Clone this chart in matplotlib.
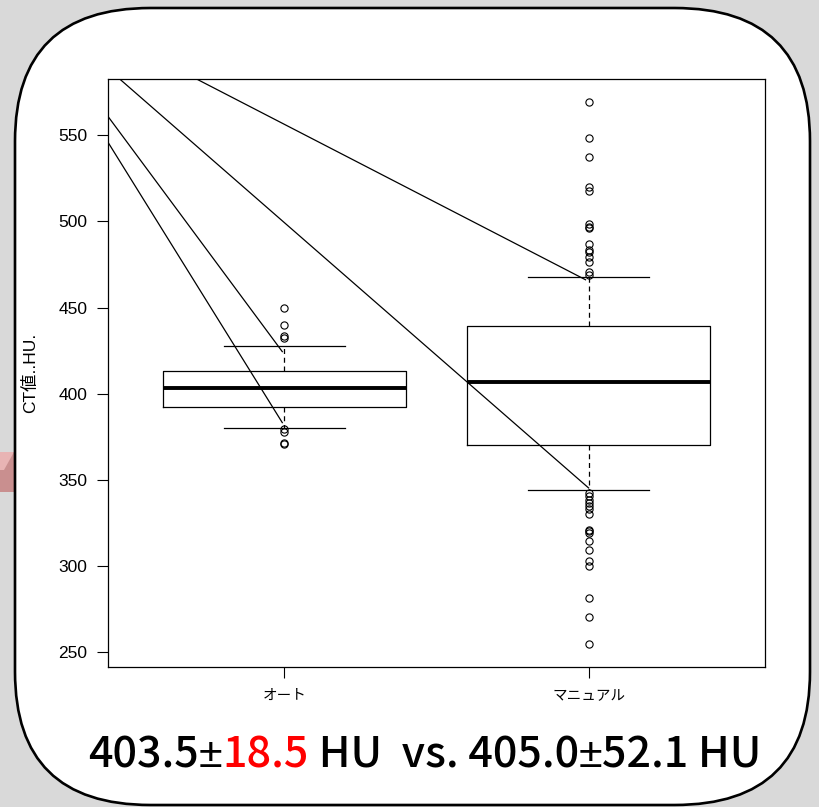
import matplotlib
matplotlib.use("Agg")
import matplotlib.pyplot as plt
from matplotlib.patches import FancyBboxPatch, Polygon

# ---------------- data ----------------
categories = ['オート', 'マニュアル']
q1 = [392.3, 370.4]
median = [403.3, 406.8]
q3 = [412.9, 439.0]
whisker_low = [380.0, 344.3]
whisker_high = [427.4, 467.8]
auto_outliers = [450.0, 439.6, 433.2, 432.5, 379.5, 377.5, 371.5, 371.0]
manual_outliers = [569.0, 548.5, 537.5, 520.2, 517.7, 498.6, 497.0, 495.9,
                   487.0, 483.5, 482.0, 479.6, 476.7, 470.4, 469.0,
                   342.4, 340.4, 338.5, 336.6, 334.6, 332.9, 330.2,
                   321.1, 320.1, 319.2, 314.3, 309.5, 302.7, 300.2,
                   281.5, 270.3, 254.8]
yticks = [250, 300, 350, 400, 450, 500, 550]
ylabel = 'CT値..HU.'
# callout lines: common origin (outside plot) -> target points
callout_origin = (0.092, 639.0)
callout_target_x = [0.993, 0.993, 2.0, 1.99]
callout_target_y = [424.4, 383.2, 345.3, 466.1]
summary_parts = ['403.5', '±', '18.5', ' HU  vs. 405.0', '±', '52.1 HU']
summary_colors = ['black', 'black', 'red', 'black', 'black', 'black']

# ---------------- figure ----------------
W, H = 820, 807
fig = plt.figure(figsize=(W / 100, H / 100), dpi=100)
fig.patch.set_facecolor('#d9d9d9')

# pink fragment at left edge
pink = Polygon([(0, 1 - 452 / H), (14 / W, 1 - 452 / H), (14 / W, 1 - 492 / H),
                (0, 1 - 492 / H)], closed=True, transform=fig.transFigure,
               facecolor='#c98f8f', edgecolor='none', zorder=0)
fig.patches.append(pink)
pink2 = Polygon([(0, 1 - 452 / H), (14 / W, 1 - 452 / H), (4 / W, 1 - 470 / H),
                 (0, 1 - 470 / H)], closed=True, transform=fig.transFigure,
                facecolor='#e8b4b4', edgecolor='none', zorder=0)
fig.patches.append(pink2)

# rounded white panel
x0, x1 = 15 / W, 810 / W
y0, y1 = 1 - 805 / H, 1 - 8 / H
panel = FancyBboxPatch((x0, y0), x1 - x0, y1 - y0,
                       boxstyle='round,pad=0,rounding_size=0.165',
                       transform=fig.transFigure, facecolor='white',
                       edgecolor='black', linewidth=1.9, zorder=1)
fig.patches.append(panel)

ax = fig.add_axes([108 / W, 1 - 667 / H, (765 - 108) / W, (667 - 79) / H])
ax.set_facecolor('white')
ax.set_zorder(2)

stats = []
fliers = [auto_outliers, manual_outliers]
for i in range(len(categories)):
    stats.append(dict(med=median[i], q1=q1[i], q3=q3[i],
                      whislo=whisker_low[i], whishi=whisker_high[i],
                      fliers=fliers[i], label=categories[i]))

ax.bxp(stats, positions=[1, 2], widths=0.8, capwidths=0.4,
       boxprops=dict(color='black', linewidth=0.9),
       medianprops=dict(color='black', linewidth=2.8, solid_capstyle='butt'),
       whiskerprops=dict(color='black', linewidth=0.9, linestyle=(0, (4, 3))),
       capprops=dict(color='black', linewidth=0.9),
       flierprops=dict(marker='o', markerfacecolor='none', markeredgecolor='black',
                       markersize=5.2, markeredgewidth=0.8, linestyle='none'))

for tx, ty in zip(callout_target_x, callout_target_y):
    ax.plot([callout_origin[0], tx], [callout_origin[1], ty], color='black',
            linewidth=0.9, clip_on=True, zorder=5)

ax.set_xlim(0.42, 2.58)
ax.set_ylim(241.4, 582.6)
ax.set_yticks(yticks)
ax.set_yticklabels([str(v) for v in yticks], fontsize=12.5, family=['Liberation Sans'])
ax.set_xticks([1, 2])
ax.set_xticklabels(categories, fontsize=10.5, family=['Noto Sans CJK JP'])
ax.tick_params(axis='y', length=7.7, width=0.8, pad=7)
ax.tick_params(axis='x', length=7.7, width=0.8, pad=8)
for s in ax.spines.values():
    s.set_linewidth(0.9)
    s.set_color('black')

fig.text(30 / W, 1 - 373 / H, ylabel, rotation=90, va='center', ha='center',
         fontsize=12.5, family=['Liberation Sans', 'Noto Sans CJK JP'], zorder=3)

# summary text with colored part
last = None
for txt, col in zip(summary_parts, summary_colors):
    if txt == '±':
        kw = dict(fontsize=31, color=col, family=['Liberation Sans'],
                  fontweight='normal', zorder=4)
    else:
        kw = dict(fontsize=31, color=col, family=['Noto Sans CJK JP'],
                  fontweight='medium', zorder=4)
    if last is None:
        last = fig.text(88 / W, 1 - 767 / H, txt, ha='left', va='baseline', **kw)
    else:
        last = plt.annotate(txt, xy=(1, 0), xycoords=last, ha='left', va='bottom',
                            annotation_clip=False, **kw)

fig.savefig('out.png', dpi=100, facecolor=fig.get_facecolor())
